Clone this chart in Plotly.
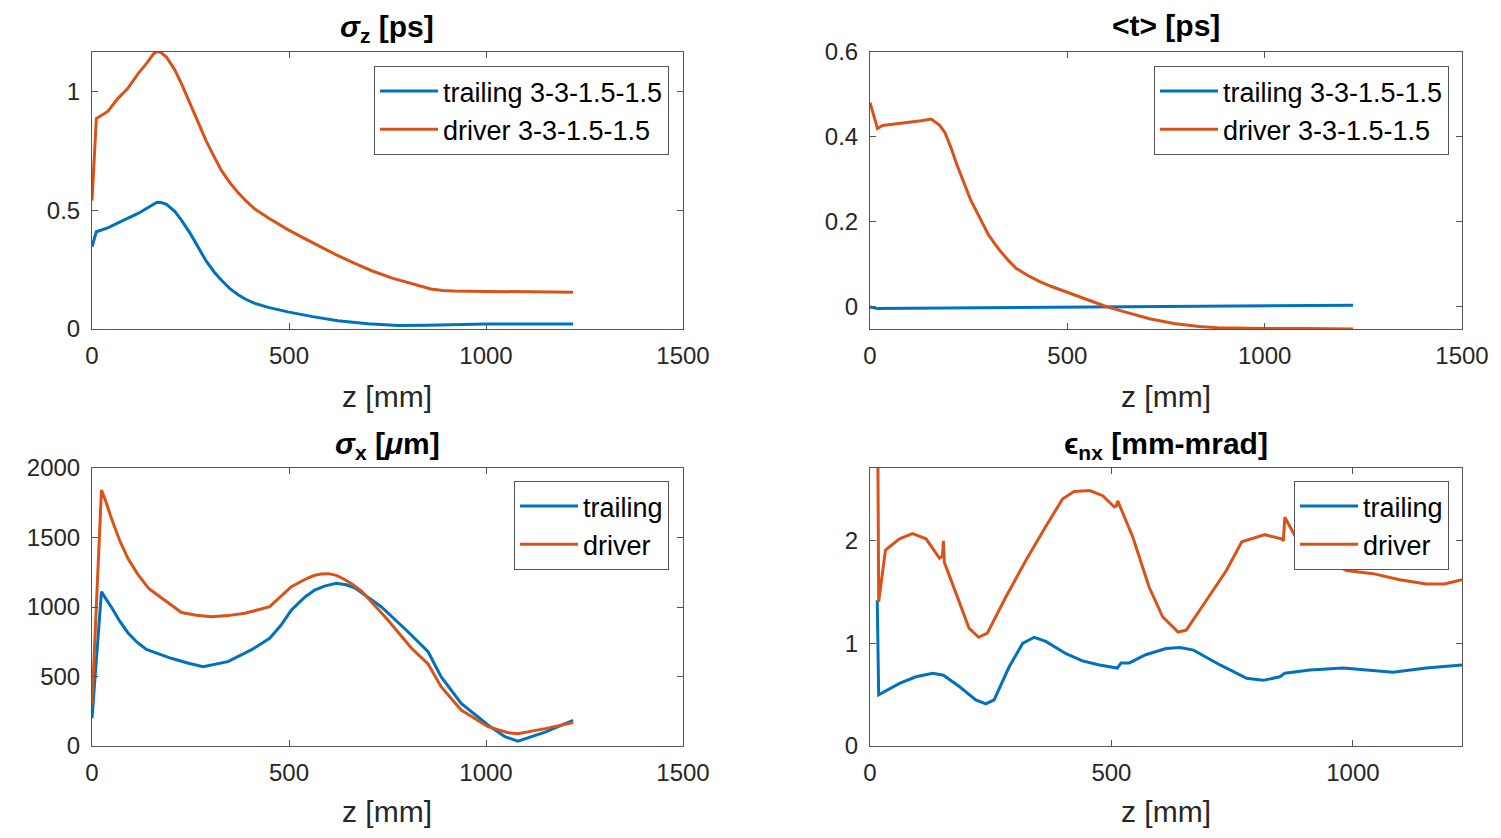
import plotly.graph_objects as go

# ---------------- data ----------------
sz_drv_z = [0, 11, 40, 66, 90, 117, 140, 155, 165, 175, 189, 210, 227, 250, 269, 290, 310, 328, 350, 370, 390, 413, 450, 497, 540, 580, 620, 667, 710, 760, 810, 860, 890, 920, 1000, 1100, 1221]
sz_drv_v = [0.54, 0.885, 0.915, 0.97, 1.01, 1.074, 1.12, 1.155, 1.168, 1.163, 1.144, 1.09, 1.032, 0.945, 0.87, 0.79, 0.725, 0.668, 0.615, 0.575, 0.54, 0.505, 0.465, 0.418, 0.38, 0.345, 0.312, 0.276, 0.245, 0.215, 0.19, 0.168, 0.162, 0.16, 0.158, 0.156, 0.155]
sz_trl_z = [0, 11, 40, 66, 90, 117, 140, 155, 165, 175, 189, 210, 227, 250, 269, 290, 310, 328, 350, 370, 390, 413, 450, 497, 560, 624, 700, 777, 850, 920, 1000, 1100, 1221]
sz_trl_v = [0.346, 0.409, 0.425, 0.444, 0.465, 0.486, 0.51, 0.526, 0.533, 0.532, 0.524, 0.495, 0.458, 0.40, 0.345, 0.285, 0.24, 0.206, 0.17, 0.145, 0.125, 0.108, 0.09, 0.072, 0.052, 0.035, 0.022, 0.015, 0.016, 0.019, 0.021, 0.021, 0.021]

t_drv_z = [0, 19, 32, 80, 130, 155, 176, 190, 205, 220, 235, 255, 277, 300, 315, 328, 350, 370, 400, 429, 460, 497, 550, 598, 650, 708, 770, 834, 880, 919, 1000, 1100, 1224]
t_drv_v = [0.481, 0.42, 0.427, 0.432, 0.438, 0.442, 0.428, 0.41, 0.375, 0.335, 0.299, 0.252, 0.212, 0.17, 0.15, 0.134, 0.11, 0.091, 0.074, 0.06, 0.048, 0.035, 0.017, 0.001, -0.013, -0.028, -0.039, -0.046, -0.049, -0.05, -0.051, -0.051, -0.052]
t_trl_z = [0, 19, 100, 300, 500, 800, 1000, 1224]
t_trl_v = [0.0, -0.004, -0.003, -0.002, 0.0, 0.002, 0.003, 0.004]

sx_drv_z = [0, 24, 35, 49, 70, 91, 115, 142, 150, 190, 227, 265, 303, 345, 388, 451, 480, 506, 545, 565, 582, 600, 620, 640, 660, 684, 751, 811, 853, 886, 937, 1005, 1056, 1081, 1150, 1221]
sx_drv_v = [295, 1842, 1760, 1640, 1480, 1350, 1240, 1140, 1120, 1035, 960, 940, 930, 938, 955, 1002, 1080, 1146, 1205, 1228, 1237, 1240, 1228, 1200, 1165, 1115, 906, 703, 590, 427, 259, 139, 96, 89, 125, 168]
sx_trl_z = [0, 24, 35, 49, 70, 91, 115, 138, 201, 245, 282, 345, 404, 451, 480, 506, 540, 565, 590, 620, 645, 667, 734, 802, 853, 886, 937, 1005, 1048, 1081, 1150, 1221]
sx_trl_v = [199, 1110, 1060, 1000, 900, 815, 745, 695, 631, 595, 571, 607, 691, 775, 870, 978, 1070, 1122, 1150, 1170, 1160, 1138, 1002, 822, 678, 499, 307, 151, 67, 34, 100, 185]

en_drv_z = [15, 18, 32, 61, 88, 116, 144, 150, 152, 154, 178, 205, 225, 243, 281, 323, 364, 399, 423, 455, 482, 506, 510, 513, 520, 544, 578, 606, 638, 655, 688, 738, 770, 818, 852, 856, 859, 880, 905, 932, 987, 1042, 1097, 1152, 1190, 1226]
en_drv_v = [4.0, 1.405, 1.91, 2.02, 2.07, 2.02, 1.83, 1.85, 2.0, 1.79, 1.49, 1.15, 1.06, 1.10, 1.45, 1.81, 2.14, 2.41, 2.48, 2.49, 2.44, 2.33, 2.34, 2.39, 2.31, 2.04, 1.55, 1.26, 1.11, 1.13, 1.36, 1.71, 1.99, 2.06, 2.02, 2.0, 2.23, 2.05, 1.95, 1.84, 1.71, 1.68, 1.62, 1.58, 1.58, 1.62]
en_trl_z = [15, 18, 61, 95, 130, 152, 185, 219, 240, 257, 288, 316, 340, 364, 406, 440, 475, 506, 512, 520, 537, 571, 613, 642, 670, 725, 780, 814, 849, 859, 911, 980, 1083, 1152, 1226]
en_trl_v = [1.42, 0.50, 0.61, 0.675, 0.71, 0.69, 0.58, 0.45, 0.41, 0.45, 0.77, 1.0, 1.06, 1.02, 0.90, 0.83, 0.79, 0.77, 0.76, 0.81, 0.81, 0.89, 0.95, 0.96, 0.935, 0.79, 0.66, 0.64, 0.675, 0.71, 0.74, 0.76, 0.72, 0.76, 0.79]

titles = ["<i>σ</i><sub>z</sub> [ps]", "&lt;t&gt; [ps]", "<i>σ</i><sub>x</sub> [<i>μ</i>m]", "ϵ<sub>nx</sub> [mm-mrad]"]
names_top = ["trailing 3-3-1.5-1.5", "driver 3-3-1.5-1.5"]
names_bot = ["trailing", "driver"]
xlabel = "z [mm]"

BLUE = "#0072BD"
ORANGE = "#D95319"
FONT = "Liberation Sans"
TXT = "#262626"

panels = [
    (sz_trl_z, sz_trl_v, sz_drv_z, sz_drv_v, names_top),
    (t_trl_z, t_trl_v, t_drv_z, t_drv_v, names_top),
    (sx_trl_z, sx_trl_v, sx_drv_z, sx_drv_v, names_bot),
    (en_trl_z, en_trl_v, en_drv_z, en_drv_v, names_bot),
]

# page has an 8px body margin: figure is sized to fit the window exactly
OFF = 8
W, H = 1501 - 2 * OFF, 838 - 2 * OFF


def px(xp):
    return (xp - OFF) / W


def py(yp):
    return 1 - (yp - OFF) / H


# axes boxes in window pixels (left, right, top, bottom)
boxes = [(92, 683, 52, 329), (870, 1462, 52, 329), (92, 683, 468, 746), (870, 1462, 468, 746)]
xranges = [[0, 1500], [0, 1500], [0, 1500], [0, 1226]]
yranges = [[0, 1.165], [-0.052, 0.6], [0, 2000], [0, 2.71]]
xticks = [[0, 500, 1000, 1500]] * 3 + [[0, 500, 1000]]
yticks = [[0, 0.5, 1], [0, 0.2, 0.4, 0.6], [0, 500, 1000, 1500, 2000], [0, 1, 2]]
legend_right = [669, 1449, 669, 1449]
legend_top = [66, 66, 481, 481]
title_bottom = [49, 44, 466, 466]
xlabel_center = [397, 397, 811, 811]

fig = go.Figure()
layout = dict(width=W, height=H, margin=dict(l=0, r=0, t=0, b=0, autoexpand=False), template="none",
              paper_bgcolor="white", plot_bgcolor="white",
              font=dict(family=FONT, color=TXT, size=24), showlegend=True)
annotations = []
for i, (tz, tv, dz, dv, nm) in enumerate(panels):
    k = "" if i == 0 else str(i + 1)
    leg = "legend" if i == 0 else "legend" + str(i + 1)
    fig.add_trace(go.Scatter(x=tz, y=tv, mode="lines", name=nm[0], line=dict(color=BLUE, width=3),
                             xaxis="x" + k, yaxis="y" + k, legend=leg))
    fig.add_trace(go.Scatter(x=dz, y=dv, mode="lines", name=nm[1], line=dict(color=ORANGE, width=3),
                             xaxis="x" + k, yaxis="y" + k, legend=leg))
    l, r, t, b = boxes[i]
    axcommon = dict(showline=True, linecolor="#555555", linewidth=1, mirror="ticks", ticks="inside",
                    ticklen=6, tickcolor="#555555", showgrid=False, zeroline=False, automargin=False,
                    tickfont=dict(size=24, color=TXT, family=FONT))
    layout["xaxis" + k] = dict(axcommon, domain=[px(l), px(r)], range=xranges[i], tickvals=xticks[i],
                               anchor="y" + k, ticklabelstandoff=5)
    layout["yaxis" + k] = dict(axcommon, domain=[py(b), py(t)], range=yranges[i], tickvals=yticks[i],
                               anchor="x" + k, ticklabelstandoff=6)
    layout[leg] = dict(x=px(legend_right[i]), y=py(legend_top[i]), xanchor="right", yanchor="top",
                       bgcolor="white", bordercolor="#555555", borderwidth=1,
                       font=dict(size=27, color="black", family=FONT), itemwidth=58,
                       tracegroupgap=0)
    annotations.append(dict(text="<b>" + titles[i] + "</b>", x=px((l + r) / 2), y=py(title_bottom[i]),
                            xref="paper", yref="paper", xanchor="center", yanchor="bottom",
                            showarrow=False, font=dict(size=30, color="black", family=FONT)))
    annotations.append(dict(text=xlabel, x=px((l + r) / 2), y=py(xlabel_center[i]),
                            xref="paper", yref="paper", xanchor="center", yanchor="middle",
                            showarrow=False, font=dict(size=30, color=TXT, family=FONT)))
layout["annotations"] = annotations
fig.update_layout(**layout)
fig.write_html("out.html")
